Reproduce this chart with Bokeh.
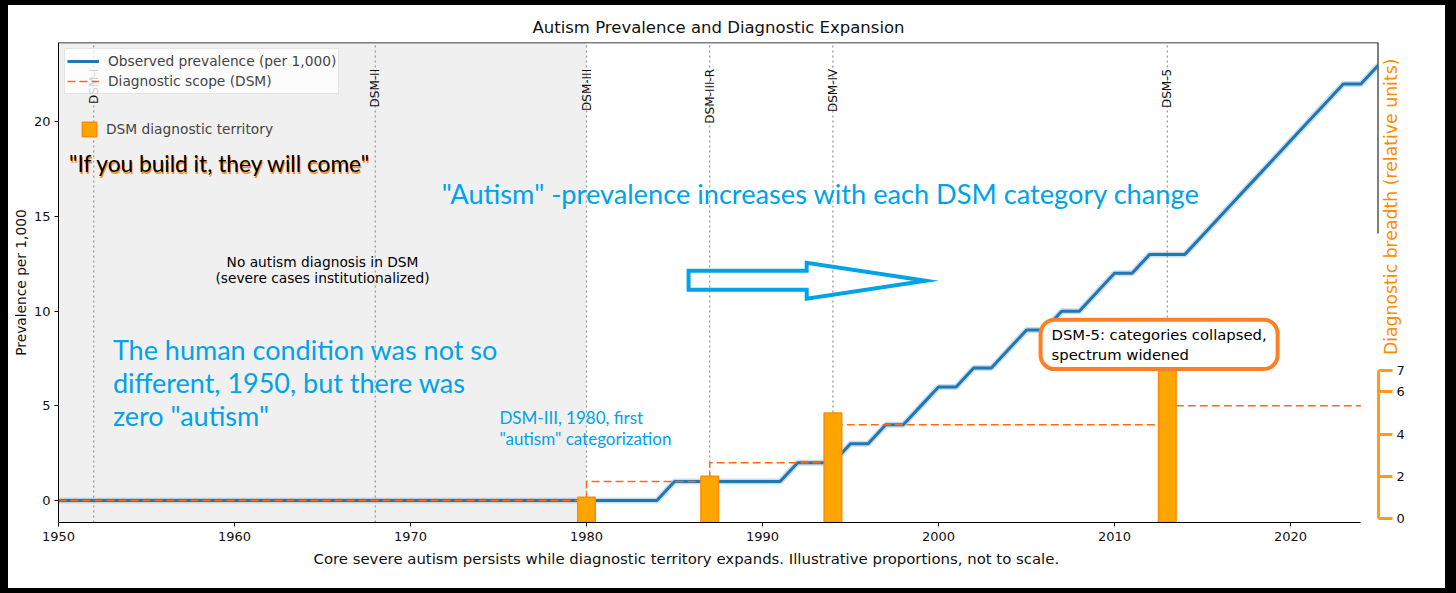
import math
from bokeh.plotting import figure
from bokeh.models import (Range1d, LinearAxis, FixedTicker, BoxAnnotation, Span,
                          Label, Legend, LegendItem, Title)
from bokeh.core.properties import value
from bokeh.embed import file_html
from bokeh.resources import INLINE

# ---------------- data ----------------
years = list(range(1950, 2026))
prevalence = [
    0, 0, 0, 0, 0, 0, 0, 0, 0, 0,          # 1950-1959
    0, 0, 0, 0, 0, 0, 0, 0, 0, 0,          # 1960-1969
    0, 0, 0, 0, 0, 0, 0, 0, 0, 0,          # 1970-1979
    0, 0, 0, 0, 0, 1, 1, 1, 1, 1,          # 1980-1989
    1, 1, 2, 2, 2, 3, 3, 4, 4, 5,          # 1990-1999
    6, 6, 7, 7, 8, 9, 9, 10, 10, 11,       # 2000-2009
    12, 12, 13, 13, 13, 14, 15, 16, 17, 18,  # 2010-2019
    19, 20, 21, 22, 22, 23,                # 2020-2025
]
scope_years = [1950, 1980, 1987, 1994, 2013, 2024]
scope_values = [0, 1, 2, 4, 5, 5]

dsm_years = [1952, 1968, 1980, 1987, 1994, 2013]
dsm_names = ["DSM-I", "DSM-II", "DSM-III", "DSM-III-R", "DSM-IV", "DSM-5"]

territory_years = [1980, 1987, 1994, 2013]
territory_heights = [1, 2, 5, 7]
territory_base = -0.3

x_ticks = [1950, 1960, 1970, 1980, 1990, 2000, 2010, 2020]
y_ticks = [0, 5, 10, 15, 20]
breadth_ticks = [0, 2, 4, 6, 7]

# ---------------- styling ----------------
BLUE = "#1f77b4"
NOTE_BLUE = "#00a2e8"
DASH_ORANGE = "#ff6a13"
BAR_ORANGE = "#ffa500"
AX_ORANGE = "#ff9a1a"
CALLOUT_ORANGE = "#ff7f27"
DJ = "DejaVu Sans"
NOTE_FONT = "Lato"

Y0, Y1 = -1.16, 24.19
p = figure(frame_width=1320, frame_height=480,
           x_range=Range1d(1950, 2025), y_range=Range1d(Y0, Y1),
           output_backend="svg", toolbar_location=None,
           min_border_left=50, min_border_right=67, min_border_top=37, min_border_bottom=66,
           title="Autism Prevalence and Diagnostic Expansion")
p.styles = {"position": "absolute", "left": "0px", "top": "0px",
            "border-style": "solid", "border-color": "black",
            "border-width": "5px 11px 5px 8px"}
p.extra_y_ranges = {"breadth": Range1d(-0.19, 22.54)}

p.title.text_font = DJ
p.title.text_font_size = "16.5px"
p.title.text_font_style = "normal"
p.title.align = "center"
p.title.text_color = "#111111"
p.title.standoff = 12

p.outline_line_color = None
p.xgrid.visible = False
p.ygrid.visible = False
p.background_fill_color = "white"

# axes
p.xaxis.ticker = FixedTicker(ticks=x_ticks)
p.yaxis.ticker = FixedTicker(ticks=y_ticks)
p.xaxis.bounds = (1950, 2024)
for ax in (p.xaxis[0], p.yaxis[0]):
    ax.major_tick_out = 4
    ax.major_tick_in = 0
    ax.minor_tick_line_color = None
    ax.major_label_text_font = DJ
    ax.major_label_text_font_size = "13px"
    ax.major_label_text_color = "#111111"
    ax.axis_line_color = "black"
    ax.major_tick_line_color = "black"
p.yaxis.axis_label = "Prevalence per 1,000"
p.yaxis.axis_label_text_font = DJ
p.yaxis.axis_label_text_font_size = "13.75px"
p.yaxis.axis_label_text_font_style = "normal"
p.yaxis.axis_label_text_color = "#111111"
p.yaxis.axis_label_standoff = 2
p.yaxis.major_label_standoff = 4

right_axis = LinearAxis(y_range_name="breadth", bounds=(0, 7),
                        ticker=FixedTicker(ticks=breadth_ticks))
right_axis.axis_line_color = AX_ORANGE
right_axis.axis_line_width = 3
right_axis.major_tick_line_color = AX_ORANGE
right_axis.major_tick_line_width = 3
right_axis.major_tick_out = 14
right_axis.major_tick_in = 0
right_axis.minor_tick_line_color = None
right_axis.major_label_text_font = DJ
right_axis.major_label_text_font_size = "13px"
right_axis.major_label_text_color = "#111111"
right_axis.major_label_standoff = 4
p.add_layout(right_axis, "right")

# frame pieces
p.add_layout(Span(location=Y1, dimension="width", line_color="black", line_width=1.5))
p.segment(x0=[2025], y0=[14.1], x1=[2025], y1=[Y1], line_color="black", line_width=2)

# pre-DSM shading
p.add_layout(BoxAnnotation(left=1950, right=1980, fill_color="#f0f0f0", fill_alpha=1,
                           line_color=None, level="underlay"))

# DSM edition lines + labels
p.segment(x0=dsm_years, y0=[Y0] * len(dsm_years), x1=dsm_years, y1=[Y1] * len(dsm_years),
          line_color="#9a9a9a", line_width=1.3, line_dash="2 3")
p.text(x=dsm_years, y=[22.8] * len(dsm_years), text=dsm_names, angle=math.pi / 2,
       text_align="right", text_baseline="middle", text_font=value(DJ),
       text_font_size="12px", text_color="#111111")

# prevalence line (with soft halo)
p.line(years, prevalence, line_color=BLUE, line_width=6, line_alpha=0.25)
prev_r = p.line(years, prevalence, line_color=BLUE, line_width=3)

# diagnostic scope (steps)
scope_r = p.step(scope_years, scope_values, mode="after", line_color=DASH_ORANGE,
                 line_width=1.5, line_dash="8 4")

# territory bars
bar_r = p.vbar(x=territory_years, width=1, bottom=territory_base, top=territory_heights,
               y_range_name="breadth", fill_color=BAR_ORANGE, line_color="#ff8c00",
               line_width=1.5)

# arrow outline
arrow_x = [1985.80, 1992.51, 1992.51, 1999.27, 1992.51, 1992.51, 1985.80]
arrow_y = [12.14, 12.14, 12.56, 11.61, 10.66, 11.13, 11.13]
p.patch(arrow_x, arrow_y, fill_alpha=0, line_color=NOTE_BLUE, line_width=4, line_join="miter")

# notes inside the plot
build_text = ['"If you build it, they will come"']
p.text(x=[1950.6], y=[17.79], text=build_text, x_offset=1, y_offset=2,
       text_font=value(NOTE_FONT), text_font_size="22.7px", text_color="#ff8a1f",
       text_baseline="alphabetic")
p.text(x=[1950.6], y=[17.79], text=build_text,
       text_font=value(NOTE_FONT), text_font_size="22.7px", text_color="black",
       text_baseline="alphabetic")

p.text(x=[1971.78], y=[16.20], text=['"Autism" -prevalence increases with each DSM category change'],
       text_font=value(NOTE_FONT), text_font_size="27.2px", text_color=NOTE_BLUE,
       text_baseline="alphabetic")

human_lines = ["The human condition was not so", "different, 1950, but there was", 'zero "autism"']
p.text(x=[1953.09] * 3, y=[7.97] * 3, text=human_lines, y_offset=[0, 33, 66],
       text_font=value(NOTE_FONT), text_font_size="27px", text_color=NOTE_BLUE,
       text_baseline="alphabetic")

dsm3_lines = ["DSM-III, 1980, first", '"autism" categorization']
p.text(x=[1975.05] * 2, y=[4.38] * 2, text=dsm3_lines, y_offset=[0, 21],
       text_font=value(NOTE_FONT), text_font_size="17px", text_color=NOTE_BLUE,
       text_baseline="alphabetic")

none_lines = ["No autism diagnosis in DSM", "(severe cases institutionalized)"]
p.text(x=[1965.0] * 2, y=[12.61] * 2, text=none_lines, y_offset=[0, 16.5],
       text_font=value(DJ), text_font_size="13.75px", text_color="black",
       text_align="center", text_baseline="alphabetic")

# callout
p.add_layout(Label(x=2005.8, y=9.55, text="DSM-5: categories collapsed,\nspectrum widened",
                   text_font=DJ, text_font_size="14.8px", text_color="black",
                   text_align="left", text_baseline="top",
                   background_fill_color="white", background_fill_alpha=1,
                   border_line_color=CALLOUT_ORANGE, border_line_width=4,
                   padding=(11, 6), border_radius=14))

# caption below the axis
p.add_layout(Title(text="Core severe autism persists while diagnostic territory expands. "
                        "Illustrative proportions, not to scale.",
                   align="left", offset=255, standoff=8,
                   text_font=DJ, text_font_size="14.9px", text_font_style="normal",
                   text_color="#111111"), "below")

# secondary axis title, placed in the right panel
p.add_layout(Label(x=2025.7, y=15.51, text="Diagnostic breadth (relative units)",
                   angle=math.pi / 2, text_font=DJ, text_font_size="17.3px",
                   text_color="#ff8c00", text_align="center", text_baseline="middle"), "right")

# legends
leg1 = Legend(items=[LegendItem(label="Observed prevalence (per 1,000)", renderers=[prev_r]),
                     LegendItem(label="Diagnostic scope (DSM)", renderers=[scope_r])],
              location="top_left", margin=6, padding=2, spacing=0,
              glyph_width=32, glyph_height=20, label_height=20, label_standoff=9,
              label_text_font=DJ, label_text_font_size="13.75px",
              border_line_color="#cccccc", border_line_width=1,
              background_fill_color="white", background_fill_alpha=0.8)
leg2 = Legend(items=[LegendItem(label="DSM diagnostic territory", renderers=[bar_r])],
              location=(22, 384), margin=0, padding=0, spacing=0,
              glyph_width=18, glyph_height=18, label_height=18, label_standoff=8,
              label_text_font=DJ, label_text_font_size="13.75px",
              border_line_color=None, background_fill_alpha=0)
p.add_layout(leg1)
p.add_layout(leg2)

open("out.html", "w").write(file_html(p, INLINE))
